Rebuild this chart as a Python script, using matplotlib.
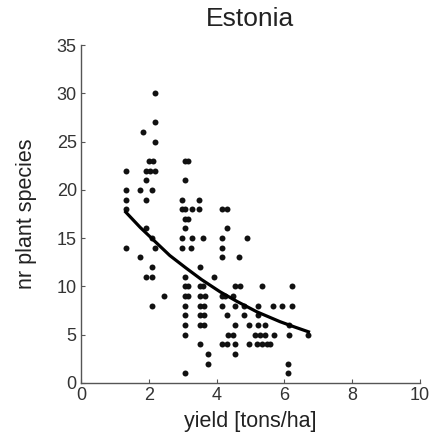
import matplotlib
matplotlib.use("Agg")
import matplotlib.pyplot as plt

plt.rcParams["font.family"] = ["Liberation Sans", "DejaVu Sans"]

# scatter points: yield [tons/ha] vs number of plant species
yield_vals = [
    1.32, 1.32, 1.32, 1.32, 1.32,
    1.74, 1.74, 1.84,
    1.92, 1.92, 1.92, 1.92, 1.92,
    2.04, 2.02, 2.13,
    2.10, 2.10, 2.10, 2.10, 2.10,
    2.18, 2.18, 2.18, 2.18, 2.18,
    2.45,
    3.07, 3.17, 3.07, 2.97, 2.97, 3.07, 3.27, 3.07, 3.17, 3.07,
    2.97, 3.27, 2.97, 3.24, 3.07, 3.07, 3.17, 3.07, 3.17,
    3.07, 3.07, 3.07, 3.07, 3.07,
    3.49, 3.49, 3.59, 3.51, 3.51, 3.61, 3.51, 3.66, 3.51, 3.63,
    3.51, 3.63, 3.51, 3.63, 3.51, 3.76, 3.76,
    3.92,
    4.17, 4.30, 4.30, 4.17, 4.17, 4.17, 4.15, 4.25, 4.17, 4.30,
    4.35, 4.15, 4.30,
    4.91, 4.67, 4.54, 4.69, 4.49, 4.54, 4.81, 4.81, 4.54, 4.97,
    4.49, 4.54, 4.97, 4.54,
    5.33, 6.21, 5.23, 5.67, 5.94, 6.21, 5.23, 5.23, 5.43, 6.14,
    5.13, 5.28, 5.43, 5.69, 6.14, 6.71,
    5.20, 5.33, 5.48, 5.58, 6.10, 6.10,
]
species_vals = [
    22, 20, 19, 18, 14,
    20, 13, 26,
    22, 21, 19, 16, 11,
    22, 23, 23,
    20, 15, 12, 11, 8,
    30, 27, 25, 22, 14,
    9,
    23, 23, 21, 19, 18, 18, 18, 17, 17, 16,
    15, 15, 14, 14, 11, 10, 10, 9, 9,
    8, 7, 6, 5, 1,
    19, 18, 15, 12, 10, 10, 9, 9, 8, 8,
    7, 7, 6, 6, 4, 3, 2,
    11,
    18, 18, 16, 15, 14, 13, 9, 9, 8, 7,
    5, 4, 4,
    15, 13, 10, 10, 9, 8, 8, 7, 6, 6,
    5, 4, 4, 3,
    10, 10, 8, 8, 8, 8, 7, 6, 6, 6,
    5, 5, 5, 5, 5, 5,
    4, 4, 4, 4, 2, 1,
]

# fitted trend line
fit_x = [1.32, 1.75, 2.2, 2.62, 3.1, 3.56, 4.1, 4.6, 5.2, 5.87, 6.3, 6.71]
fit_y = [17.7, 16.1, 14.6, 13.2, 11.9, 10.7, 9.45, 8.45, 7.35, 6.35, 5.8, 5.3]

x_ticks = [0, 2, 4, 6, 8, 10]
y_ticks = [0, 5, 10, 15, 20, 25, 30, 35]


def main():
    fig = plt.figure(figsize=(4.33, 4.37), dpi=100)
    ax = fig.add_axes([0.187, 0.1236, 0.783, 0.7734])

    ax.plot(yield_vals, species_vals, "o", color="#111111",
            markersize=4.3, markeredgewidth=0)
    ax.plot(fit_x, fit_y, "-", color="black", linewidth=2.3)

    ax.set_xlim(0, 10)
    ax.set_ylim(0, 35)
    ax.set_xticks(x_ticks)
    ax.set_yticks(y_ticks)

    for side in ["top", "right"]:
        ax.spines[side].set_visible(False)
    for side in ["left", "bottom"]:
        ax.spines[side].set_color("#555555")
        ax.spines[side].set_linewidth(1.0)

    ax.tick_params(direction="in", length=3, width=0.8, color="#555555",
                   labelsize=13, labelcolor="#333333", pad=3)

    ax.set_title("Estonia", fontsize=19, color="#222222", pad=14)
    ax.set_xlabel("yield [tons/ha]", fontsize=15.5, color="#222222",
                  labelpad=5)
    ax.set_ylabel("nr plant species", fontsize=15.5, color="#222222",
                  labelpad=14)

    fig.savefig("out.png", dpi=100)
    plt.close(fig)


if __name__ == "__main__":
    main()
